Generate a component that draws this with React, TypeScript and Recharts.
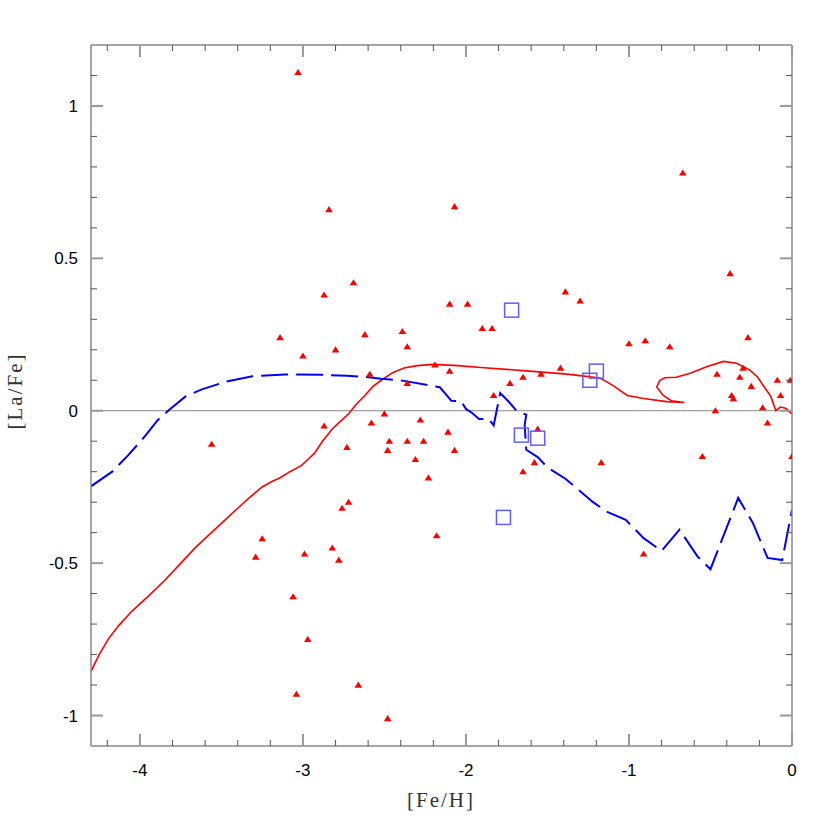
import { ComposedChart, Line, Scatter, XAxis, YAxis, ReferenceLine } from 'recharts'

// ── Data ──────────────────────────────────────────────────────────────────────

// observed stars ([Fe/H], [La/Fe]) — red triangles
const stars: [number, number][] = [
  [-3.03, 1.11], [-0.67, 0.78], [-2.84, 0.66], [-2.07, 0.67], [-2.69, 0.42], [-2.87, 0.38],
  [-1.39, 0.39], [-1.30, 0.36], [-2.10, 0.35], [-1.99, 0.35], [-2.39, 0.26], [-1.90, 0.27],
  [-1.84, 0.27], [-2.36, 0.21], [-1.00, 0.22], [-0.90, 0.23], [-0.75, 0.21], [-2.19, 0.15],
  [-2.10, 0.13], [-1.42, 0.14], [-1.65, 0.11], [-1.54, 0.12], [-2.36, 0.09], [-1.73, 0.09],
  [-1.83, 0.05], [-2.50, -0.01], [-2.28, -0.03], [-1.56, -0.06], [-2.11, -0.07], [-2.47, -0.10],
  [-2.36, -0.10], [-2.26, -0.10], [-2.48, -0.13], [-2.07, -0.13], [-2.31, -0.16], [-1.17, -0.17],
  [-1.58, -0.17], [-1.65, -0.20], [-2.23, -0.22], [-2.18, -0.41], [-3.14, 0.24], [-2.62, 0.25],
  [-3.00, 0.18], [-2.80, 0.20], [-2.59, 0.12], [-3.56, -0.11], [-2.87, -0.05], [-2.58, -0.04],
  [-2.73, -0.12], [-2.72, -0.30], [-2.76, -0.32], [-3.25, -0.42], [-3.29, -0.48], [-2.99, -0.47],
  [-2.82, -0.45], [-2.78, -0.49], [-3.06, -0.61], [-2.97, -0.75], [-2.66, -0.90], [-3.04, -0.93],
  [-2.48, -1.01], [-0.38, 0.45], [-0.27, 0.24], [-0.46, 0.12], [-0.32, 0.11], [-0.30, 0.14],
  [-0.25, 0.08], [-0.09, 0.10], [-0.01, 0.10], [-0.37, 0.05], [-0.36, 0.04], [-0.07, 0.05],
  [-0.18, 0.01], [-0.47, 0.00], [-0.15, -0.04], [-0.55, -0.15], [0.00, -0.15], [-0.91, -0.47],
]

// second sample — open blue squares
const squares: [number, number][] = [
  [-1.72, 0.33], [-1.20, 0.13], [-1.24, 0.10], [-1.66, -0.08], [-1.56, -0.09], [-1.77, -0.35],
]

// model 1 — red solid
const modelA: [number, number][] = [
  [-4.30, -0.855], [-4.25, -0.80], [-4.19, -0.746], [-4.13, -0.705], [-4.05, -0.658], [-3.95, -0.609],
  [-3.85, -0.558], [-3.74, -0.495], [-3.66, -0.449], [-3.57, -0.404], [-3.48, -0.36],
  [-3.40, -0.32], [-3.33, -0.286], [-3.25, -0.25], [-3.19, -0.232], [-3.14, -0.22], [-3.08, -0.20],
  [-3.01, -0.18], [-2.97, -0.16], [-2.93, -0.14], [-2.88, -0.10], [-2.82, -0.06], [-2.77, -0.035],
  [-2.72, -0.01], [-2.67, 0.023], [-2.62, 0.05], [-2.57, 0.08], [-2.52, 0.10], [-2.45, 0.125],
  [-2.38, 0.14], [-2.30, 0.148], [-2.20, 0.152], [-2.05, 0.148], [-1.91, 0.142], [-1.61, 0.13],
  [-1.38, 0.12], [-1.25, 0.112], [-1.18, 0.107], [-1.13, 0.093], [-1.09, 0.08], [-1.01, 0.05],
  [-0.91, 0.04], [-0.77, 0.03], [-0.66, 0.027], [-0.74, 0.033], [-0.79, 0.05], [-0.83, 0.078],
  [-0.81, 0.10], [-0.78, 0.108], [-0.71, 0.11], [-0.62, 0.124], [-0.52, 0.145], [-0.42, 0.162],
  [-0.34, 0.156], [-0.26, 0.134], [-0.21, 0.11], [-0.18, 0.085], [-0.13, 0.047], [-0.10, 0.001],
  [-0.07, 0.012], [-0.04, 0.008], [0.00, -0.01],
]

// model 2 — blue dashed
const modelB: [number, number][] = [
  [-4.30, -0.248], [-4.17, -0.20], [-4.07, -0.145], [-3.97, -0.084], [-3.89, -0.03], [-3.82, 0.003],
  [-3.72, 0.047], [-3.62, 0.07], [-3.47, 0.096], [-3.31, 0.113], [-3.11, 0.119], [-2.89, 0.118],
  [-2.73, 0.115], [-2.60, 0.11], [-2.52, 0.105], [-2.38, 0.098], [-2.16, 0.077], [-2.12, 0.052],
  [-2.09, 0.033], [-2.03, 0.031], [-2.00, 0.006], [-1.96, -0.008], [-1.92, -0.027], [-1.86, -0.027],
  [-1.83, -0.048], [-1.79, 0.058], [-1.74, 0.031], [-1.69, 0.0], [-1.63, -0.013], [-1.64, -0.046],
  [-1.63, -0.128], [-1.56, -0.152], [-1.50, -0.186], [-1.39, -0.223], [-1.22, -0.30], [-1.14, -0.33],
  [-1.02, -0.358], [-0.91, -0.418], [-0.80, -0.46], [-0.69, -0.39], [-0.58, -0.478], [-0.50, -0.52],
  [-0.33, -0.286], [-0.24, -0.368], [-0.15, -0.483], [-0.06, -0.49], [0.00, -0.325],
]

const xTicks = [-4.2, -4, -3.8, -3.6, -3.4, -3.2, -3, -2.8, -2.6, -2.4, -2.2, -2, -1.8, -1.6, -1.4, -1.2, -1, -0.8, -0.6, -0.4, -0.2, 0]
const yTicks = [-1, -0.9, -0.8, -0.7, -0.6, -0.5, -0.4, -0.3, -0.2, -0.1, 0, 0.1, 0.2, 0.3, 0.4, 0.5, 0.6, 0.7, 0.8, 0.9, 1, 1.1]

const toPts = (a: [number, number][]) => a.map(([x, y]) => ({ x, y }))

// ── Styling helpers ───────────────────────────────────────────────────────────

const AXIS = { stroke: '#888', strokeWidth: 1.5 }
const LABEL_FONT = 'Liberation Sans, Arial, sans-serif'
const isMajorX = (v: number) => Math.abs(v - Math.round(v)) < 1e-6
const isMajorY = (v: number) => Math.abs(v * 2 - Math.round(v * 2)) < 1e-6
const fmt = (v: number) => String(Math.round(v * 10) / 10)

function mark(x1: number, y1: number, x2: number, y2: number, major: boolean) {
  return <path d={`M${x1},${y1}L${x2},${y2}`} stroke={major ? '#999' : '#555'} strokeWidth={major ? 2 : 1} fill="none" />
}

function BottomTick(props: any) {
  const { x, y, payload } = props
  const major = isMajorX(payload.value)
  return (
    <g>
      {mark(x, y, x, y - (major ? 12 : 6), major)}
      {major && <text x={x} y={y + 30} textAnchor="middle" fontSize={17} fontFamily={LABEL_FONT} fill="#000">{fmt(payload.value)}</text>}
    </g>
  )
}
function TopTick(props: any) {
  const { x, y, payload } = props
  const major = isMajorX(payload.value)
  return <g>{mark(x, y, x, y + (major ? 12 : 6), major)}</g>
}
function LeftTick(props: any) {
  const { x, y, payload } = props
  const major = isMajorY(payload.value)
  return (
    <g>
      {mark(x, y, x + (major ? 12 : 6), y, major)}
      {major && <text x={x - 13} y={y + 6} textAnchor="end" fontSize={17} fontFamily={LABEL_FONT} fill="#000">{fmt(payload.value)}</text>}
    </g>
  )
}
function RightTick(props: any) {
  const { x, y, payload } = props
  const major = isMajorY(payload.value)
  return <g>{mark(x, y, x - (major ? 12 : 6), y, major)}</g>
}

const Triangle = ({ cx, cy }: any) => (
  <polygon points={`${cx},${cy - 3.5} ${cx - 3.8},${cy + 2.6} ${cx + 3.8},${cy + 2.6}`} fill="#ff0000" />
)
const Square = ({ cx, cy }: any) => (
  <rect x={cx - 7} y={cy - 7} width={14} height={14} fill="none" stroke="#5f5fff" strokeWidth={1.5} />
)

// ── Chart ─────────────────────────────────────────────────────────────────────

export default function App() {
  return (
    <div style={{ position: 'absolute', left: 0, top: 0, width: 836, height: 836, background: '#fff' }}>
      <ComposedChart width={836} height={836} margin={{ top: 44, right: 43, bottom: 60, left: 41 }}>
        <XAxis xAxisId="b" type="number" dataKey="x" domain={[-4.3, 0]} ticks={xTicks} allowDataOverflow
          axisLine={AXIS} tickLine={false} tickSize={0} tickMargin={0} tick={BottomTick} height={30} interval={0} />
        <XAxis xAxisId="t" orientation="top" type="number" dataKey="x" domain={[-4.3, 0]} ticks={xTicks} allowDataOverflow
          axisLine={AXIS} tickLine={false} tickSize={0} tickMargin={0} tick={TopTick} height={1} interval={0} />
        <YAxis yAxisId="l" type="number" dataKey="y" domain={[-1.1, 1.2]} ticks={yTicks} allowDataOverflow
          axisLine={AXIS} tickLine={false} tickSize={0} tickMargin={0} tick={LeftTick} width={50} interval={0} />
        <YAxis yAxisId="r" orientation="right" type="number" dataKey="y" domain={[-1.1, 1.2]} ticks={yTicks} allowDataOverflow
          axisLine={AXIS} tickLine={false} tickSize={0} tickMargin={0} tick={RightTick} width={1} interval={0} />

        <ReferenceLine xAxisId="b" yAxisId="l" y={0} stroke="#888" strokeWidth={1} />

        <Line xAxisId="b" yAxisId="l" data={toPts(modelA)} dataKey="y" type="linear" stroke="#ff0000" strokeWidth={1.6} dot={false} isAnimationActive={false} />
        <Line xAxisId="b" yAxisId="l" data={toPts(modelB)} dataKey="y" type="linear" stroke="#0000ff" strokeWidth={2} strokeDasharray="27 8" dot={false} isAnimationActive={false} />
        <Scatter xAxisId="b" yAxisId="l" data={toPts(stars)} dataKey="y" shape={<Triangle />} isAnimationActive={false} />
        <Scatter xAxisId="b" yAxisId="l" data={toPts(squares)} dataKey="y" shape={<Square />} isAnimationActive={false} />
        <Line xAxisId="t" yAxisId="r" data={toPts(modelA)} dataKey="y" stroke="none" dot={false} isAnimationActive={false} />
      </ComposedChart>
      <div style={{ position: 'absolute', left: 441, top: 800, transform: 'translate(-50%, -50%)', fontFamily: 'Liberation Serif, serif', fontSize: 21, letterSpacing: 2, color: '#333', whiteSpace: 'nowrap' }}>[Fe/H]</div>
      <div style={{ position: 'absolute', left: 15, top: 391, transform: 'translate(-50%, -50%) rotate(-90deg)', fontFamily: 'Liberation Serif, serif', fontSize: 21, letterSpacing: 2, color: '#333', whiteSpace: 'nowrap' }}>[La/Fe]</div>
    </div>
  )
}
